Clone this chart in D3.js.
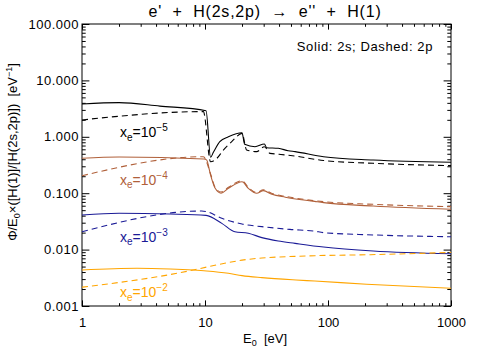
<!DOCTYPE html>
<html>
<head>
<meta charset="utf-8">
<script src="https://cdn.jsdelivr.net/npm/d3@7"></script>
<style>
body { margin: 0; background: #fff; }
svg text { font-family: "Liberation Sans", Arial, sans-serif; fill: #000; }
</style>
</head>
<body>
<svg id="chart" width="485" height="350"></svg>
<script>
// energy [eV], Phi/E0 x ratio [eV^-1]; solid = 2s, dashed = 2p
const xe5_2s = [[1,3.82],[2,4.03],[4.3,3.5],[10.2,2.9],[11.1,0.433],[11.7,0.531],[13.2,0.82],[15.5,1.0],[20,1.18],[21,0.736],[25.5,0.667],[30.4,0.745],[31.7,0.641],[39.4,0.625],[47.5,0.567],[54,0.545],[92,0.444],[233,0.388],[1000,0.353]];
const xe5_2p = [[1,1.99],[9.7,2.8],[11.1,0.362],[12.5,0.416],[14.1,0.583],[16.5,0.82],[20,1.15],[21.8,0.583],[26.3,0.545],[30.4,0.667],[33.8,0.509],[40,0.49],[54,0.455],[92,0.38],[233,0.339],[1000,0.308]];
const xe4_2s = [[1,0.416],[2,0.438],[9.8,0.404],[10.3,0.39],[11.1,0.21],[12.1,0.122],[13.5,0.10],[15.5,0.122],[20,0.160],[22.5,0.122],[26.3,0.0995],[29.8,0.111],[35,0.0955],[45,0.085],[78,0.0715],[92,0.068],[233,0.0593],[1000,0.0519]];
const xe4_2p = [[1,0.204],[9.7,0.444],[11.1,0.22],[12.1,0.126],[13.5,0.105],[15.5,0.127],[20,0.166],[22.5,0.127],[26.3,0.103],[29.8,0.115],[35,0.099],[45,0.088],[92,0.0707],[233,0.0635],[1000,0.0577]];
const xe3_2s = [[1,0.041],[2,0.0441],[5.2,0.0428],[10.2,0.0405],[13.7,0.0292],[17.5,0.0207],[22.5,0.0195],[29,0.0163],[39.4,0.0142],[54,0.0129],[92,0.0111],[233,0.00945],[1000,0.00846]];
const xe3_2p = [[1,0.0207],[9.4,0.0483],[10.3,0.047],[13.7,0.0359],[20,0.0284],[29,0.0255],[49,0.0228],[78,0.0212],[92,0.0200],[233,0.0182],[1000,0.0169]];
const xe2_2s = [[1,0.00434],[2.8,0.00466],[5.2,0.00453],[8,0.00434],[10.3,0.00418],[15.5,0.0038],[20,0.00345],[29,0.00318],[55,0.00289],[78,0.00277],[206,0.00243],[1000,0.00206]];
const xe2_2p = [[1,0.00215],[8,0.00434],[10.3,0.0049],[15.5,0.0059],[20,0.0065],[29,0.0071],[55,0.0076],[78,0.0078],[206,0.0081],[1000,0.0089]];

const exponents = ["5", "4", "3", "2"];
const colors = ["#000000", "#b0603a", "#1a1a96", "#ffa500"];
const xTicks = [1, 10, 100, 1000];
const yTicks = [0.001, 0.01, 0.1, 1, 10, 100];

const svg = d3.select("#chart");
const plotL = 82, plotR = 451, plotT = 24, plotB = 306;

const x = d3.scaleLog().domain([1, 1000]).range([plotL, plotR]);
const y = d3.scaleLog().domain([0.001, 100]).range([plotB, plotT]);

function minors(lo, hi) {
    const out = [];
    for (let d = lo; d < hi; d *= 10) {
        for (let k = 2; k <= 9; k++) out.push(d * k);
    }
    return out;
}
const xMinor = minors(1, 1000);
const yMinor = minors(0.001, 100);

svg.append("defs").append("clipPath").attr("id", "clip")
    .append("rect").attr("x", plotL).attr("y", plotT)
    .attr("width", plotR - plotL).attr("height", plotB - plotT);

// axes, IDL style: ticks inside on all four sides
function addAxis(axis, tx, ty, labels) {
    const g = svg.append("g").attr("transform", "translate(" + tx + "," + ty + ")").call(axis);
    g.select(".domain").remove();
    g.selectAll(".tick line").attr("stroke", "#000");
    if (!labels) g.selectAll("text").remove();
    return g;
}
addAxis(d3.axisBottom(x).tickValues(xTicks).tickSize(-5.6).tickPadding(12).tickFormat(d3.format("d")), 0, plotB, true)
    .selectAll("text").style("font-size", "13px");
addAxis(d3.axisBottom(x).tickValues(xMinor).tickSize(-2.8).tickFormat(""), 0, plotB, false);
addAxis(d3.axisTop(x).tickValues(xTicks).tickSize(-5.6), 0, plotT, false);
addAxis(d3.axisTop(x).tickValues(xMinor).tickSize(-2.8), 0, plotT, false);
addAxis(d3.axisLeft(y).tickValues(yTicks).tickSize(-7.4).tickPadding(3).tickFormat(d3.format(".3f")), plotL, 0, true)
    .selectAll("text").style("font-size", "13px").style("letter-spacing", "0.5px");
addAxis(d3.axisLeft(y).tickValues(yMinor).tickSize(-3.7).tickFormat(""), plotL, 0, false);
addAxis(d3.axisRight(y).tickValues(yTicks).tickSize(-7.4), plotR, 0, false);
addAxis(d3.axisRight(y).tickValues(yMinor).tickSize(-3.7), plotR, 0, false);

svg.append("rect").attr("x", plotL).attr("y", plotT)
    .attr("width", plotR - plotL).attr("height", plotB - plotT)
    .attr("fill", "none").attr("stroke", "#000").attr("stroke-width", 1);

// curves
const line = d3.line().x(d => x(d[0])).y(d => y(d[1])).curve(d3.curveMonotoneX);
const series = [
    {data: xe5_2s, c: 0, dash: null}, {data: xe5_2p, c: 0, dash: "6,4"},
    {data: xe4_2s, c: 1, dash: null}, {data: xe4_2p, c: 1, dash: "6,4"},
    {data: xe3_2s, c: 2, dash: null}, {data: xe3_2p, c: 2, dash: "6,4"},
    {data: xe2_2s, c: 3, dash: null}, {data: xe2_2p, c: 3, dash: "6,4"}
];
svg.append("g").attr("clip-path", "url(#clip)")
    .selectAll("path").data(series).join("path")
    .attr("d", d => line(d.data))
    .attr("fill", "none")
    .attr("stroke", d => colors[d.c])
    .attr("stroke-width", 1.1)
    .attr("stroke-dasharray", d => d.dash);

// x_e labels
const labelBase = [137, 184.5, 241.5, 297];
exponents.forEach((e, i) => {
    const t = svg.append("text").attr("x", 120).attr("y", labelBase[i])
        .style("font-size", "14px").style("fill", colors[i]);
    t.append("tspan").text("x");
    t.append("tspan").attr("dy", 3.5).style("font-size", "10px").text("e");
    t.append("tspan").attr("dy", -3.5).text("=10");
    t.append("tspan").attr("dy", -6).style("font-size", "10px").text("\u2212" + e);
});

// title and notes
svg.append("text").attr("x", 265).attr("y", 17).attr("text-anchor", "middle")
    .style("font-size", "16px").style("white-space", "pre").style("letter-spacing", "0.8px")
    .text("e'  +  H(2s,2p)  \u2192  e''  +  H(1)");

svg.append("text").attr("x", 433).attr("y", 51).attr("text-anchor", "end")
    .style("font-size", "13px").style("letter-spacing", "0.6px").text("Solid: 2s; Dashed: 2p");

const xl = svg.append("text").attr("x", 265).attr("y", 343).attr("text-anchor", "middle")
    .style("font-size", "13px").style("white-space", "pre");
xl.append("tspan").text("E");
xl.append("tspan").attr("dy", 3).style("font-size", "9px").text("0");
xl.append("tspan").attr("dy", -3).text("  [eV]");

const yl = svg.append("text").attr("transform", "translate(17,152) rotate(-90)")
    .attr("text-anchor", "middle").style("font-size", "13px").style("white-space", "pre");
yl.append("tspan").text("\u03a6/E");
yl.append("tspan").attr("dy", 3).style("font-size", "9px").text("0");
yl.append("tspan").attr("dy", -3).text("\u00d7([H(1)]/[H(2s,2p)])  [eV");
yl.append("tspan").attr("dy", -5).style("font-size", "9px").text("\u22121");
yl.append("tspan").attr("dy", 5).text("]");
</script>
</body>
</html>
